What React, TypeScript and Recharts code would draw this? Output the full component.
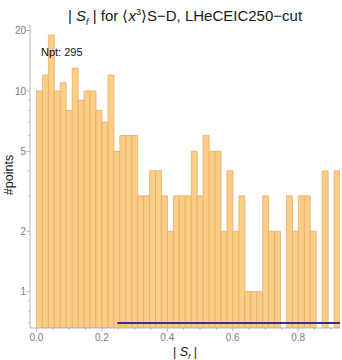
import React from "react";
import { ComposedChart, Bar, XAxis, YAxis, ReferenceLine } from "recharts";

// histogram of |S_f|, counts per bin, zero bins drawn as gaps
const BIN_START = 0;
const BIN_WIDTH = 0.0182;
const COUNTS = [
  10, 12, 19, 10, 11, 8, 13, 9, 10, 10, 8, 7, 12,
  5, 6, 6, 6, 3, 3, 4, 4, 3, 2, 3, 3, 3,
  5, 3, 6, 5, 5, 2, 4, 2, 3, 1, 1, 1,
  3, 2, 2, 0, 3, 2, 3, 3, 2, 0, 4, 0, 4,
];

const X_TICKS = [0, 0.05, 0.1, 0.15, 0.2, 0.25, 0.3, 0.35, 0.4, 0.45, 0.5, 0.55, 0.6, 0.65, 0.7, 0.75, 0.8, 0.85, 0.9];
const X_MAJOR = [0, 0.2, 0.4, 0.6, 0.8];
const Y_TICKS = [0.7, 0.8, 0.9, 1, 2, 3, 4, 5, 6, 7, 8, 9, 10, 20];
const Y_MAJOR = [1, 2, 5, 10, 20];

// horizontal band lines drawn under the bars
const NAVY_X = [0.247, 0.928];
const NAVY_Y = 0.698;
const GOLD_X = [0.247, 0.28];
const GOLD_Y = 0.676;

const NPT = 295;

const X_DOMAIN: [number, number] = [-0.0198, 0.928];
const Y_DOMAIN: [number, number] = [0.659, 21.3];

const FONT = "'Liberation Sans', Arial, sans-serif";
const FRAME = "#b5b5b5";
const TICK_TEXT = "#7d7d7d";

const data = COUNTS.map((c, i) => ({
  x: BIN_START + (i + 0.5) * BIN_WIDTH,
  count: c > 0 ? c : null,
}));

const PLOT_LEFT = 30;
const PLOT_BOTTOM = 328;

function XTick({ x, payload }: any) {
  const major = X_MAJOR.some(v => Math.abs(v - payload.value) < 1e-9);
  return (
    <g>
      <line x1={x} x2={x} y1={PLOT_BOTTOM} y2={PLOT_BOTTOM + (major ? 3.5 : 2)} stroke={FRAME} />
      {major && (
        <text x={x} y={PLOT_BOTTOM + 13} textAnchor="middle" fontSize={10} fill={TICK_TEXT} fontFamily={FONT}>
          {payload.value.toFixed(1)}
        </text>
      )}
    </g>
  );
}

function YTick({ y, payload }: any) {
  const major = Y_MAJOR.includes(payload.value);
  return (
    <g>
      <line x1={PLOT_LEFT - (major ? 3.5 : 2)} x2={PLOT_LEFT} y1={y} y2={y} stroke={FRAME} />
      {major && (
        <text x={PLOT_LEFT - 4} y={y + 3.6} textAnchor="end" fontSize={10} fill={TICK_TEXT} fontFamily={FONT}>
          {payload.value}
        </text>
      )}
    </g>
  );
}

export default function App() {
  return (
    <div style={{ position: "absolute", left: 0, top: 0, width: 342, height: 360, background: "#fff", fontFamily: FONT }}>
      <ComposedChart
        width={342}
        height={360}
        data={data}
        margin={{ top: 25, right: 2, left: 0, bottom: 0 }}
        barCategoryGap={0}
        barGap={0}
      >
        <XAxis
          dataKey="x"
          type="number"
          domain={X_DOMAIN}
          allowDataOverflow
          ticks={X_TICKS}
          interval={0}
          tick={<XTick />}
          tickLine={false}
          height={32}
          stroke={FRAME}
        />
        <XAxis xAxisId="top" orientation="top" type="number" domain={[0, 1]} tick={false} tickLine={false} height={0} stroke={FRAME} />
        <YAxis
          type="number"
          scale="log"
          domain={Y_DOMAIN}
          allowDataOverflow
          ticks={Y_TICKS}
          interval={0}
          tick={<YTick />}
          tickLine={false}
          width={30}
          stroke={FRAME}
        />
        <YAxis yAxisId="right" orientation="right" type="number" domain={[0, 1]} tick={false} tickLine={false} width={0} stroke={FRAME} />
        <Bar
          dataKey="count"
          fill="#fccd86"
          stroke="#e3aa5e"
          strokeWidth={0.7}
          isAnimationActive={false}
        />
        <ReferenceLine
          segment={[{ x: GOLD_X[0], y: GOLD_Y }, { x: GOLD_X[1], y: GOLD_Y }]}
          stroke="#e6cf3c"
          strokeWidth={1.5}
        />
        <ReferenceLine
          segment={[{ x: NAVY_X[0], y: NAVY_Y }, { x: NAVY_X[1], y: NAVY_Y }]}
          stroke="#33308a"
          strokeWidth={2}
        />
      </ComposedChart>

      <div style={{ position: "absolute", left: 30, top: 3, width: 310, textAlign: "center", fontSize: 15, lineHeight: "18px", color: "#1a1a1a", whiteSpace: "nowrap" }}>
        | <i>S</i><sub style={{ fontSize: 9 }}><i>f</i></sub> | for ⟨<i>x</i><sup style={{ fontSize: 9 }}>3</sup>⟩S−D, LHeCEIC250−cut
      </div>
      <div style={{ position: "absolute", left: 41, top: 46, fontSize: 11, lineHeight: "12px", color: "#111" }}>
        Npt: {NPT}
      </div>
      <div style={{ position: "absolute", left: 9, top: 175, transform: "translate(-50%, -50%) rotate(-90deg)", fontSize: 12.5, color: "#1a1a1a", whiteSpace: "nowrap" }}>
        #points
      </div>
      <div style={{ position: "absolute", left: 185, top: 353, transform: "translate(-50%, -50%)", fontSize: 12.5, color: "#1a1a1a", whiteSpace: "nowrap" }}>
        | <i>S</i><sub style={{ fontSize: 8 }}><i>f</i></sub> |
      </div>
    </div>
  );
}
